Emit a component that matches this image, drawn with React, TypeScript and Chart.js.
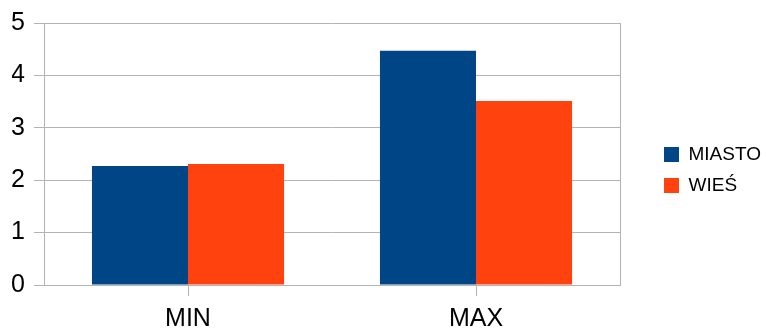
import React, { useEffect, useRef } from "react";
import { Chart, registerables } from "chart.js";

Chart.register(...registerables);

const categories = ["MIN", "MAX"];
const seriesNames = ["MIASTO", "WIEŚ"];
const miastoValues = [2.27, 4.47];
const wiesValues = [2.31, 3.51];
const yTicks = [0, 1, 2, 3, 4, 5];

const COLORS = ["#004586", "#ff420e"];
const GRID = "#b3b3b3";
const FONT = "'Liberation Sans', Arial, sans-serif";

const legendShift = {
  id: "legendShift",
  afterLayout(chart: any) {
    const lg = chart.legend;
    if (lg) {
      lg.bottom -= 11;
      const d = chart.chartArea.right + 32 - lg.left;
      lg.left += d;
      lg.right += d;
    }
  },
};

export default function App() {
  const ref = useRef<HTMLCanvasElement | null>(null);

  useEffect(() => {
    document.body.style.margin = "0";
    const ctx = ref.current!;
    const chart = new Chart(ctx, {
      type: "bar",
      data: {
        labels: categories,
        datasets: [
          {
            label: seriesNames[0],
            data: miastoValues,
            backgroundColor: COLORS[0],
            borderWidth: 0,
            categoryPercentage: 0.667,
            barPercentage: 1,
          },
          {
            label: seriesNames[1],
            data: wiesValues,
            backgroundColor: COLORS[1],
            borderWidth: 0,
            categoryPercentage: 0.667,
            barPercentage: 1,
          },
        ],
      },
      plugins: [legendShift],
      options: {
        animation: false,
        responsive: false,
        maintainAspectRatio: false,
        layout: { padding: { left: 12, top: 23, right: 0, bottom: 0 } },
        plugins: {
          tooltip: { enabled: false },
          legend: {
            position: "right",
            align: "center",
            labels: {
              boxWidth: 15,
              boxHeight: 15,
              padding: 12,
              color: "#000",
              font: { family: FONT, size: 19 },
            },
          },
        },
        scales: {
          x: {
            afterFit: (axis: any) => {
              axis.height = 43;
            },
            grid: {
              display: true,
              offset: false,
              drawOnChartArea: false,
              drawTicks: true,
              tickLength: 11,
              color: GRID,
            },
            border: { display: true, color: GRID, width: 1 },
            ticks: {
              color: "#000",
              padding: 11,
              font: { family: FONT, size: 25, lineHeight: 1 },
            },
          },
          y: {
            min: 0,
            max: 5,
            afterFit: (axis: any) => {
              axis.width = 32;
            },
            afterBuildTicks: (axis: any) => {
              axis.ticks = yTicks.map((v) => ({ value: v }));
            },
            grid: {
              color: GRID,
              tickLength: 10,
              drawTicks: true,
            },
            border: { display: true, color: GRID, width: 1 },
            ticks: {
              color: "#000",
              padding: 9,
              font: { family: FONT, size: 25, lineHeight: 1 },
            },
          },
          y2: {
            position: "right",
            min: 0,
            max: 5,
            afterFit: (axis: any) => {
              axis.width = 27;
            },
            grid: { display: false, drawTicks: false },
            border: { display: true, color: GRID, width: 1 },
            ticks: { display: false },
          },
        },
      },
    });
    return () => chart.destroy();
  }, []);

  return (
    <div style={{ width: 766, height: 328, position: "relative" }}>
      <canvas ref={ref} width={766} height={328} style={{ display: "block" }} />
    </div>
  );
}
